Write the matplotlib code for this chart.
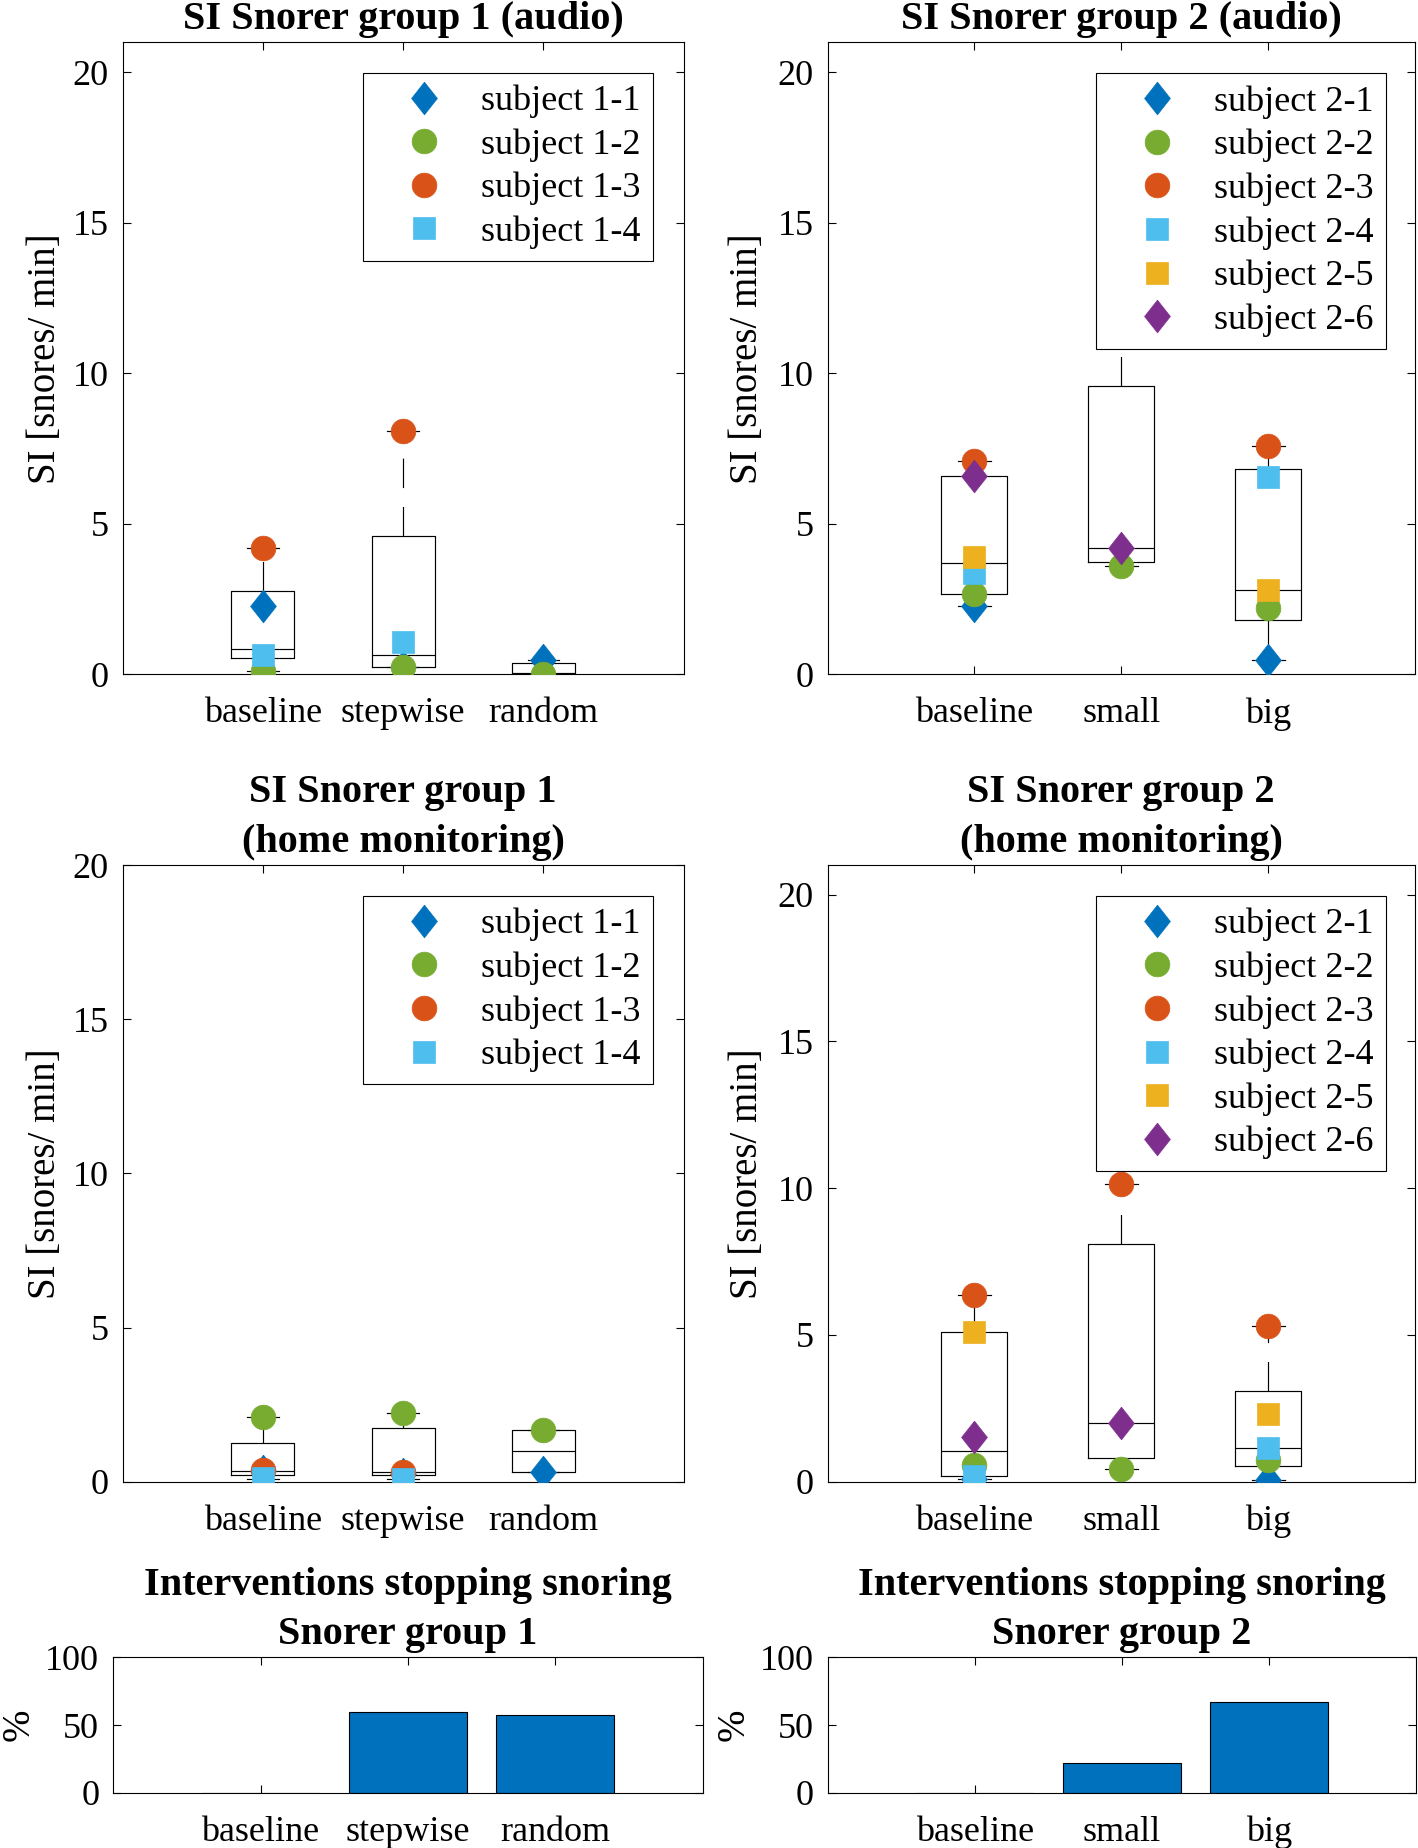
import numpy as np
import matplotlib
matplotlib.use("Agg")
import matplotlib.pyplot as plt

plt.rcParams['font.family'] = ['Liberation Serif', 'DejaVu Serif']

nan = np.nan

# ---------------- data ----------------
cats_g1 = ["baseline", "stepwise", "random"]
cats_g2 = ["baseline", "small", "big"]
labels_g1 = ["subject 1-1", "subject 1-2", "subject 1-3", "subject 1-4"]
labels_g2 = ["subject 2-1", "subject 2-2", "subject 2-3",
             "subject 2-4", "subject 2-5", "subject 2-6"]

# per-subject SI values [snores/min]; columns follow the categories
audio_g1 = [
    [2.28, 0.24, 0.47],
    [0.10, 0.24, 0.00],
    [4.20, 8.10, nan],
    [0.65, 1.06, nan],
]
audio_g2 = [
    [2.27, nan, 0.47],
    [2.67, 3.58, 2.21],
    [7.08, 11.40, 7.58],
    [3.37, nan, 6.56],
    [3.89, nan, 2.79],
    [6.60, 4.20, nan],
]
home_g1 = [
    [0.34, 0.25, 0.31],
    [2.09, 2.22, 1.67],
    [0.39, 0.30, nan],
    [0.11, 0.08, nan],
]
home_g2 = [
    [0.10, nan, 0.05],
    [0.58, 0.42, 0.73],
    [6.36, 10.14, 5.30],
    [0.18, nan, 1.13],
    [5.10, nan, 2.32],
    [1.51, 1.98, nan],
]

# box statistics per condition: q1, median, q3, lower whisker, upper whisker
audio_g1_box = [
    [0.55, 0.83, 2.77, 0.12, 4.20],
    [0.25, 0.65, 4.60, 0.24, 8.10],
    [0.02, 0.05, 0.37, 0.00, 0.47],
]
audio_g2_box = [
    [2.67, 3.69, 6.59, 2.27, 7.08],
    [3.73, 4.19, 9.59, 3.60, 11.40],
    [1.80, 2.79, 6.82, 0.47, 7.58],
]
home_g1_box = [
    [0.21, 0.35, 1.24, 0.08, 2.09],
    [0.21, 0.32, 1.75, 0.08, 2.22],
    [0.31, 0.99, 1.67, 0.31, 1.67],
]
home_g2_box = [
    [0.18, 1.04, 5.10, 0.10, 6.36],
    [0.81, 1.98, 8.10, 0.42, 10.14],
    [0.52, 1.13, 3.08, 0.05, 5.30],
]

# interventions stopping snoring [%]
stop_g1 = [0.0, 60.0, 57.1]
stop_g2 = [0.0, 22.2, 66.7]

# ---------------- styles ----------------
BLUE = '#0072BD'
GREEN = '#77AC30'
ORANGE = '#D95319'
CYAN = '#4DBEEE'
YELLOW = '#EDB120'
PURPLE = '#7E2F8E'

DIAMOND = [(0, 1), (0.79, 0), (0, -1), (-0.79, 0), (0, 1)]
marker_styles = [
    (DIAMOND, BLUE, 23.5),
    ('o', GREEN, 17.8),
    ('o', ORANGE, 17.8),
    ('s', CYAN, 15.5),
    ('s', YELLOW, 15.5),
    (DIAMOND, PURPLE, 23.5),
]

W, H = 1418, 1848
fig = plt.figure(figsize=(W / 100, H / 100), dpi=100)


def rect(left, right, top, bottom):
    return [left / W, 1 - bottom / H, (right - left) / W, (bottom - top) / H]


TICK_FS = 26
TITLE_FS = 29
LABEL_FS = 28
TITLE_PAD = 9.5


def style_axes(ax, cats, ylim, yticks, xpad=16.5):
    ax.set_xlim(0, 4)
    ax.set_ylim(*ylim)
    ax.set_xticks([1, 2, 3])
    ax.set_xticklabels(cats)
    ax.set_yticks(yticks)
    ax.tick_params(direction='in', length=6, width=0.8, top=True, right=True,
                   labelsize=TICK_FS)
    ax.tick_params(axis='x', pad=xpad)
    ax.tick_params(axis='y', pad=10)
    for s in ax.spines.values():
        s.set_linewidth(0.8)


def box_panel(ax, data, box, cats, labels, ylim, title, legend_anchor):
    stats = []
    for q1, med, q3, lo, hi in box:
        stats.append(dict(q1=q1, med=med, q3=q3, whislo=lo, whishi=hi, fliers=[]))
    lw = 0.85
    ax.bxp(stats, positions=[1, 2, 3], widths=0.45, capwidths=0.225,
           showfliers=False,
           boxprops=dict(color='k', linewidth=lw),
           medianprops=dict(color='k', linewidth=lw),
           whiskerprops=dict(color='k', linewidth=lw, linestyle=(0, (25, 16))),
           capprops=dict(color='k', linewidth=lw),
           manage_ticks=False)
    x = [1, 2, 3]
    for vals, lab, (mk, col, ms) in zip(data, labels, marker_styles):
        ax.plot(x, vals, linestyle='none', marker=mk, color=col,
                markersize=ms, markeredgecolor=col, markeredgewidth=0.5,
                label=lab, zorder=3)
    style_axes(ax, cats, ylim, [0, 5, 10, 15, 20])
    ax.set_ylabel('SI [snores/ min]', fontsize=LABEL_FS)
    ax.set_title(title, fontsize=TITLE_FS, fontweight='bold', pad=TITLE_PAD,
                 linespacing=1.45)
    leg = ax.legend(loc='upper right', bbox_to_anchor=legend_anchor,
                    borderaxespad=0, fontsize=TICK_FS, frameon=True,
                    fancybox=False, edgecolor='k', framealpha=1,
                    borderpad=0.33, labelspacing=0.28, handlelength=2.75,
                    handletextpad=0.2, numpoints=1)
    leg.get_frame().set_linewidth(0.8)
    leg.set_zorder(10)


def bar_panel(ax, vals, cats, title):
    ax.bar([1, 2, 3], vals, width=0.8, color=BLUE, edgecolor='k',
           linewidth=0.8, zorder=2)
    style_axes(ax, cats, (0, 100), [0, 50, 100])
    ax.set_ylabel('%', fontsize=LABEL_FS)
    ax.set_title(title, fontsize=TITLE_FS, fontweight='bold', pad=TITLE_PAD,
                 linespacing=1.45)


ax1 = fig.add_axes(rect(122.6, 683.6, 42.4, 674.2))
ax2 = fig.add_axes(rect(827.5, 1415.0, 42.4, 674.2))
ax3 = fig.add_axes(rect(122.6, 683.6, 865.2, 1481.6))
ax4 = fig.add_axes(rect(827.5, 1415.0, 865.2, 1481.6))
ax5 = fig.add_axes(rect(113.2, 702.5, 1657.3, 1792.8))
ax6 = fig.add_axes(rect(827.5, 1416.0, 1657.3, 1792.8))

box_panel(ax1, audio_g1, audio_g1_box, cats_g1, labels_g1, (0, 21),
          'SI Snorer group 1 (audio)', (0.945, 0.952))
box_panel(ax2, audio_g2, audio_g2_box, cats_g2, labels_g2, (0, 21),
          'SI Snorer group 2 (audio)', (0.950, 0.951))
box_panel(ax3, home_g1, home_g1_box, cats_g1, labels_g1, (0, 20),
          'SI Snorer group 1\n(home monitoring)', (0.945, 0.950))
box_panel(ax4, home_g2, home_g2_box, cats_g2, labels_g2, (0, 21),
          'SI Snorer group 2\n(home monitoring)', (0.950, 0.950))
bar_panel(ax5, stop_g1, cats_g1, 'Interventions stopping snoring\nSnorer group 1')
bar_panel(ax6, stop_g2, cats_g2, 'Interventions stopping snoring\nSnorer group 2')

ax1.yaxis.set_label_coords(-0.105, 0.5)
ax3.yaxis.set_label_coords(-0.105, 0.5)
ax2.yaxis.set_label_coords(-0.104, 0.5)
ax4.yaxis.set_label_coords(-0.104, 0.5)
ax5.yaxis.set_label_coords(-0.128, 0.5)
ax6.yaxis.set_label_coords(-0.128, 0.5)

fig.savefig('out.png', dpi=100)
